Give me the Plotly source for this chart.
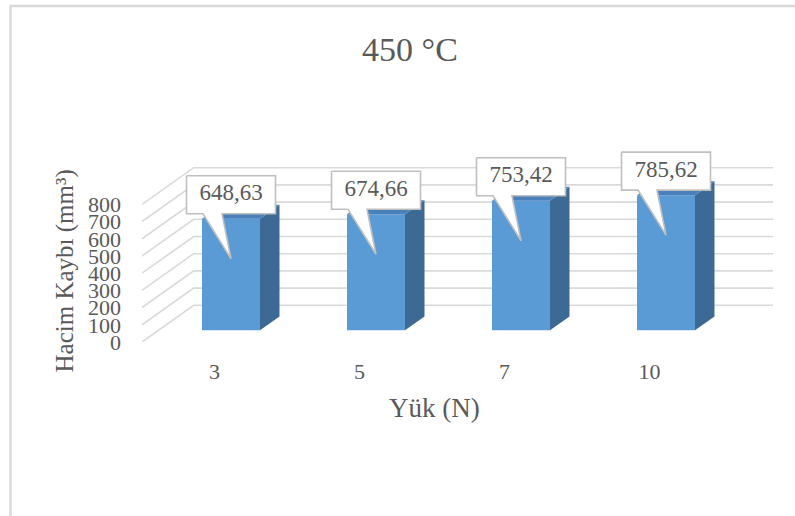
import plotly.graph_objects as go

# Wear volume loss at 450 °C for each applied load
loads = ["3", "5", "7", "10"]
volume_loss = [648.63, 674.66, 753.42, 785.62]
value_labels = ["648,63", "674,66", "753,42", "785,62"]
y_ticks = [0, 100, 200, 300, 400, 500, 600, 700, 800]

FONT = "Liberation Serif"
TEXT = "#595959"
FRONT = "#5B9BD5"
SIDE = "#3D6A94"
TOP = "#4A80B9"
GRID = "#D9D9D9"

W, H = 795, 516
ML, MR, MT, MB = 142, 22, 150, 174
PLOT_W = W - ML - MR
PLOT_H = H - MT - MB
PX_PER_SLOT = 145.0      # horizontal pixels per category slot
PX_PER_UNIT = 0.172      # vertical pixels per mm³


def ux(px):
    return px / PX_PER_SLOT


def uy(px):
    return px / PX_PER_UNIT


# oblique projection offsets (depth) for the 3-D look
FX, FY = ux(16.5), uy(11.7)    # bar front face
BX, BY = ux(36.0), uy(25.6)    # bar back face
WX, WY = ux(51.7), uy(36.7)    # back wall
HALF = 0.2                     # half bar width in slots

fig = go.Figure()

# wall gridlines: side wall diagonal + back wall horizontal
shapes = []
n = len(loads)
for v in y_ticks:
    shapes.append(dict(
        type="path", xref="x", yref="y", layer="below",
        path=f"M {-0.5} {v} L {-0.5 + WX} {v + WY} L {n - 0.5 + WX} {v + WY}",
        line=dict(color=GRID, width=1.6),
    ))

# front faces of the columns
xs = [i + FX for i in range(n)]
fig.add_trace(go.Bar(
    x=xs, y=volume_loss, base=FY, width=2 * HALF,
    marker=dict(color=FRONT, line=dict(width=0)),
    hoverinfo="skip", showlegend=False,
))

# side and top faces
for i, v in enumerate(volume_loss):
    xr = i + FX + HALF
    xl = i + FX - HALF
    fig.add_trace(go.Scatter(
        x=[xr, i + BX + HALF, i + BX + HALF, xr, xr],
        y=[FY, BY, BY + v, FY + v, FY],
        mode="lines", fill="toself", fillcolor=SIDE,
        line=dict(width=0, color=SIDE), hoverinfo="skip", showlegend=False,
    ))
    fig.add_trace(go.Scatter(
        x=[xl, xr, i + BX + HALF, i + BX - HALF, xl],
        y=[FY + v, FY + v, BY + v, BY + v, FY + v],
        mode="lines", fill="toself", fillcolor=TOP,
        line=dict(width=0, color=TOP), hoverinfo="skip", showlegend=False,
    ))

# callout labels pointing into each column
for i, (v, lab) in enumerate(zip(volume_loss, value_labels)):
    cx = i + FX
    tip_y = FY + v - uy(40)
    b = tip_y + uy(45)
    t = b + uy(38)
    left, right = cx - ux(44.5), cx + ux(44.5)
    px_ = [left, right, right, cx - ux(9), cx, cx - ux(28), left, left]
    py_ = [t, t, b, b, tip_y, b, b, t]
    fig.add_trace(go.Scatter(
        x=px_, y=py_, mode="lines", fill="toself", fillcolor="white",
        line=dict(color="#BFBFBF", width=1.6), hoverinfo="skip", showlegend=False,
    ))
    fig.add_trace(go.Scatter(
        x=[cx], y=[b + uy(19)], mode="text", text=[lab],
        textfont=dict(family=FONT, size=23, color=TEXT),
        textposition="middle center", cliponaxis=False,
        hoverinfo="skip", showlegend=False,
    ))

# chart frame (top and left edges)
def paper_x(px):
    return (px - ML) / PLOT_W


def paper_y(py):
    return (H - MB - py) / PLOT_H


shapes.append(dict(
    type="path", xref="paper", yref="paper", layer="above",
    path=f"M {paper_x(10.5)} {paper_y(530)} L {paper_x(10.5)} {paper_y(6)} L {paper_x(810)} {paper_y(6)}",
    line=dict(color=GRID, width=2.5),
))

fig.update_layout(
    width=W, height=H,
    margin=dict(l=ML, r=MR, t=MT, b=MB, pad=0),
    paper_bgcolor="white", plot_bgcolor="white",
    showlegend=False,
    shapes=shapes,
    title=dict(
        text="450 °C", xref="container", yref="container",
        x=410 / W, y=1 - 49.5 / H, xanchor="center", yanchor="middle",
        font=dict(family=FONT, size=34, color=TEXT),
    ),
    xaxis=dict(
        range=[-0.5, -0.5 + PLOT_W / PX_PER_SLOT],
        tickvals=list(range(n)), ticktext=loads,
        showgrid=False, zeroline=False, showline=False, ticks="",
        ticklabelstandoff=14,
        tickfont=dict(family=FONT, size=22, color=TEXT),
        fixedrange=True,
    ),
    yaxis=dict(
        range=[0, PLOT_H / PX_PER_UNIT],
        tickvals=y_ticks, ticktext=[str(v) for v in y_ticks],
        showgrid=False, zeroline=False, showline=False, ticks="",
        ticklabelstandoff=20,
        tickfont=dict(family=FONT, size=22, color=TEXT),
        fixedrange=True,
    ),
    annotations=[
        dict(text="Hacim Kaybı (mm³)", xref="paper", yref="paper",
             x=paper_x(64), y=paper_y(271.5), textangle=-90,
             showarrow=False, xanchor="center", yanchor="middle",
             font=dict(family=FONT, size=25, color=TEXT)),
        dict(text="Yük (N)", xref="paper", yref="paper",
             x=paper_x(434), y=paper_y(408), showarrow=False,
             xanchor="center", yanchor="middle",
             font=dict(family=FONT, size=27, color=TEXT)),
    ],
)

fig.write_html("out.html")
